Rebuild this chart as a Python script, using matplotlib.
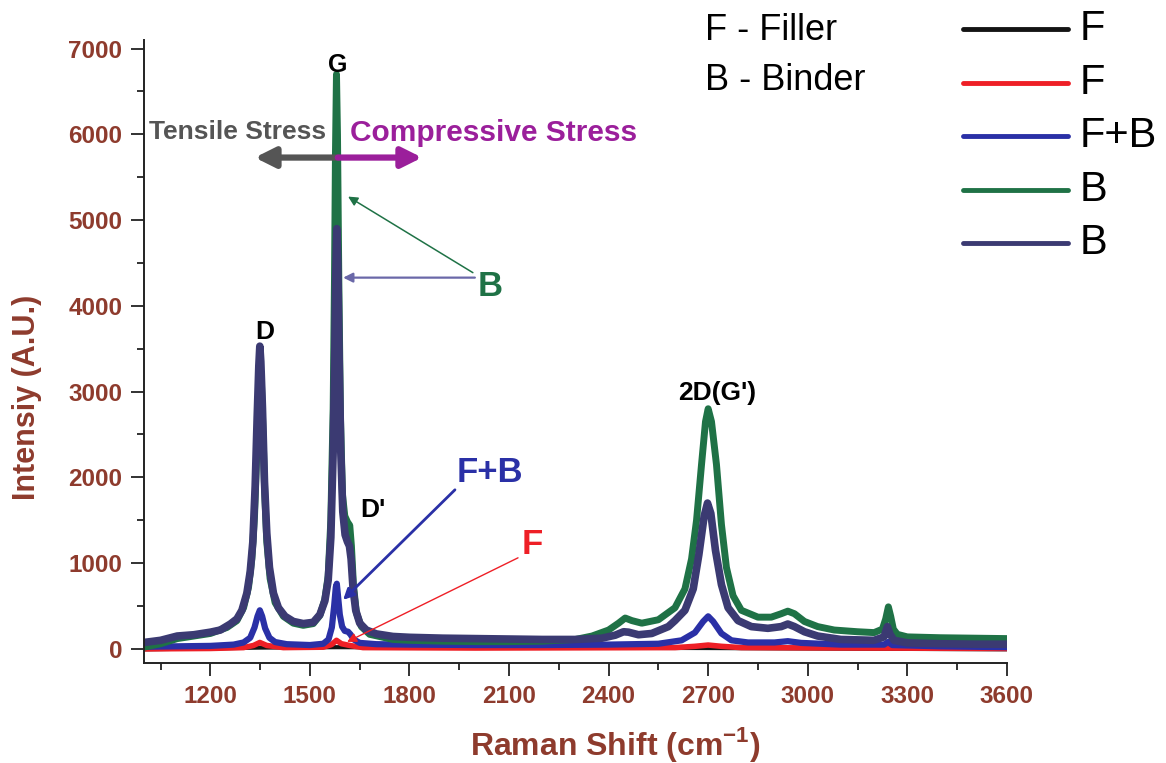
import matplotlib
matplotlib.use("Agg")
import matplotlib.pyplot as plt
from matplotlib.lines import Line2D
from matplotlib.ticker import MultipleLocator

plt.rcParams['font.family'] = ['Liberation Sans', 'DejaVu Sans']
plt.rcParams['mathtext.fontset'] = 'custom'
plt.rcParams['mathtext.rm'] = 'Liberation Sans'
plt.rcParams['mathtext.bf'] = 'Liberation Sans:bold'

# Raman spectra (shift in cm-1, intensity in A.U.)
shift_f1 = [1000, 1349, 1580, 2700, 3600]
int_f1 = [-5, 15, 20, 10, -5]

shift_f2 = [1000, 1200, 1300, 1330, 1349, 1370, 1420, 1540, 1565, 1580, 1595,
            1620, 1660, 2000, 2600, 2660, 2700, 2740, 2800, 3000, 3600]
int_f2 = [0, 5, 15, 40, 75, 40, 15, 20, 50, 100, 60,
          40, 15, 10, 15, 30, 45, 30, 15, 12, 5]

shift_fb = [1000, 1100, 1200, 1270, 1300, 1320, 1333, 1342, 1349, 1356, 1365,
            1378, 1395, 1430, 1500, 1540, 1556, 1566, 1573, 1578, 1581, 1585,
            1590, 1597, 1605, 1615, 1622, 1632, 1650, 1700, 1800, 2000, 2200,
            2400, 2550, 2620, 2660, 2685, 2700, 2715, 2740, 2770, 2820, 2900,
            2940, 2980, 3100, 3230, 3242, 3255, 3400, 3600]
int_fb = [25, 30, 35, 50, 75, 130, 250, 380, 450, 380, 240,
          130, 80, 55, 45, 60, 110, 250, 500, 720, 760, 600,
          400, 260, 210, 200, 170, 110, 70, 55, 50, 45, 45,
          50, 60, 100, 190, 320, 380, 320, 180, 100, 75, 75,
          90, 70, 50, 50, 80, 45, 30, 20]

shift_b1 = [1000, 1050, 1100, 1150, 1200, 1250, 1280, 1300, 1315, 1325, 1333,
            1340, 1345, 1349, 1353, 1358, 1364, 1370, 1380, 1395, 1420, 1450,
            1480, 1510, 1530, 1545, 1555, 1563, 1570, 1574, 1577, 1580, 1583,
            1587, 1592, 1598, 1605, 1613, 1620, 1625, 1631, 1640, 1655, 1680,
            1750, 1800, 1900, 2000, 2100, 2200, 2300, 2350, 2400, 2430, 2450,
            2470, 2500, 2550, 2600, 2630, 2650, 2665, 2680, 2692, 2700, 2710,
            2725, 2740, 2755, 2775, 2800, 2850, 2890, 2920, 2940, 2960, 2990,
            3030, 3080, 3150, 3200, 3225, 3235, 3243, 3250, 3258, 3270, 3300,
            3400, 3500, 3600]
int_b1 = [20, 60, 120, 150, 180, 250, 330, 480, 720, 1050, 1550,
          2300, 2900, 3300, 3200, 2600, 1800, 1250, 820, 540, 380, 300,
          275, 295, 390, 580, 850, 1500, 2800, 4300, 5800, 6700, 6000,
          4300, 2700, 1800, 1550, 1480, 1440, 1200, 750, 420, 260, 170,
          110, 100, 90, 85, 85, 90, 110, 150, 220, 300, 360,
          330, 300, 340, 480, 700, 1050, 1500, 2150, 2650, 2800, 2650,
          2150, 1450, 950, 620, 450, 370, 370, 410, 440, 410, 320,
          260, 220, 200, 190, 230, 350, 490, 380, 230, 170, 140,
          130, 125, 120]

shift_b2 = [1000, 1050, 1080, 1100, 1150, 1200, 1230, 1260, 1280, 1295, 1310,
            1320, 1328, 1335, 1341, 1346, 1349, 1352, 1357, 1363, 1370, 1378,
            1390, 1405, 1425, 1450, 1480, 1510, 1530, 1545, 1555, 1563, 1570,
            1575, 1578, 1581, 1584, 1588, 1593, 1599, 1606, 1613, 1619, 1624,
            1630, 1638, 1650, 1670, 1700, 1750, 1800, 1900, 2000, 2100, 2200,
            2300, 2380, 2420, 2445, 2460, 2490, 2530, 2580, 2600, 2630, 2655,
            2672, 2688, 2698, 2708, 2722, 2740, 2760, 2790, 2830, 2880, 2920,
            2940, 2960, 2990, 3030, 3100, 3200, 3230, 3240, 3248, 3260, 3300,
            3400, 3500, 3600]
int_b2 = [75, 100, 130, 150, 165, 195, 220, 290, 350, 450, 650,
          900, 1250, 1900, 2700, 3300, 3530, 3350, 2800, 1950, 1350, 950,
          650, 480, 380, 320, 295, 310, 400, 560, 800, 1300, 2300,
          3500, 4400, 4900, 4500, 3400, 2300, 1600, 1330, 1250, 1200, 1050,
          700, 450, 300, 220, 175, 145, 135, 125, 120, 115, 110,
          110, 125, 160, 200, 195, 165, 180, 260, 330, 450, 700,
          1100, 1550, 1700, 1580, 1150, 750, 480, 330, 260, 240, 260,
          290, 260, 200, 150, 110, 100, 140, 260, 170, 100, 70,
          60, 55, 55]

series = [
    (shift_f1, int_f1, '#141414', 3.0, 'F'),
    (shift_f2, int_f2, '#ee1f26', 4.0, 'F'),
    (shift_fb, int_fb, '#2a30a6', 4.5, 'F+B'),
    (shift_b1, int_b1, '#1f7246', 5.0, 'B'),
    (shift_b2, int_b2, '#3b3a72', 5.5, 'B'),
]

brown = '#8e3b2d'

fig = plt.figure(figsize=(11.66, 7.63), dpi=100)
ax = fig.add_axes([0.1235, 0.131, 0.740, 0.8166])

for x, y, c, lw, lab in series:
    ax.plot(x, y, color=c, lw=lw, solid_joinstyle='round', solid_capstyle='round')

ax.set_xlim(1000, 3600)
ax.set_ylim(-165, 7100)
ax.xaxis.set_major_locator(MultipleLocator(300))
ax.xaxis.set_minor_locator(MultipleLocator(150))
ax.yaxis.set_major_locator(MultipleLocator(1000))
ax.yaxis.set_minor_locator(MultipleLocator(500))
ax.set_xticks(range(1200, 3601, 300))

for s in ['top', 'right']:
    ax.spines[s].set_visible(False)
for s in ['left', 'bottom']:
    ax.spines[s].set_linewidth(1.4)
    ax.spines[s].set_color('#222222')

ax.tick_params(which='major', direction='out', length=9.5, width=1.3, color='#222222', pad=6)
ax.tick_params(which='minor', direction='out', length=5, width=1.3, color='#222222')
for lbl in ax.get_xticklabels() + ax.get_yticklabels():
    lbl.set_fontsize(17.5)
    lbl.set_fontweight('bold')
    lbl.set_color(brown)

ax.set_xlabel(r'Raman Shift (cm$^{\mathbf{-1}}$)', fontsize=23, fontweight='bold', color=brown)
ax.xaxis.set_label_coords(0.546, -0.100)
ax.set_ylabel('Intensiy (A.U.)', fontsize=22, fontweight='bold', color=brown)
ax.yaxis.set_label_coords(-0.118, 0.427)

# peak labels
ax.text(1585, 6814, 'G', fontsize=18, fontweight='bold', ha='center', va='center')
ax.text(1364, 3699, 'D', fontsize=19, fontweight='bold', ha='center', va='center')
ax.text(1690, 1622, "D'", fontsize=19, fontweight='bold', ha='center', va='center')
ax.text(2726, 2987, "2D(G')", fontsize=19, fontweight='bold', ha='center', va='center')

# stress direction arrows
ax.text(1283, 6032, 'Tensile Stress', fontsize=19, fontweight='bold', color='#555555',
        ha='center', va='center')
ax.text(2052, 6020, 'Compressive Stress', fontsize=21.5, fontweight='bold', color='#9b1f9b',
        ha='center', va='center')
ax.annotate('', xy=(1334, 5729), xytext=(1586, 5729),
            arrowprops=dict(arrowstyle='-|>', color='#555555', lw=4.5,
                            mutation_scale=30, shrinkA=0, shrinkB=0))
ax.annotate('', xy=(1838, 5729), xytext=(1584, 5729),
            arrowprops=dict(arrowstyle='-|>', color='#9b1f9b', lw=4.5,
                            mutation_scale=30, shrinkA=0, shrinkB=0))

# sample labels with pointers
ax.text(2042, 4224, 'B', fontsize=25, fontweight='bold', color='#1f7246', ha='center', va='center')
ax.annotate('', xy=(1615, 5274), xytext=(1991, 4387),
            arrowprops=dict(arrowstyle='-|>', color='#1f7246', lw=1.1,
                            mutation_scale=14, shrinkA=0, shrinkB=0))
ax.annotate('', xy=(1600, 4329), xytext=(1997, 4329),
            arrowprops=dict(arrowstyle='-|>', color='#6a68a8', lw=1.6,
                            mutation_scale=14, shrinkA=0, shrinkB=0))

ax.text(2042, 2054, 'F+B', fontsize=25, fontweight='bold', color='#2a30a6', ha='center', va='center')
ax.annotate('', xy=(1600, 572), xytext=(1937, 1855),
            arrowprops=dict(arrowstyle='-|>', color='#2a30a6', lw=2.0,
                            mutation_scale=16, shrinkA=0, shrinkB=0))

ax.text(2169, 1213, 'F', fontsize=25, fontweight='bold', color='#ee1f26', ha='center', va='center')
ax.annotate('', xy=(1612, 82), xytext=(2127, 1062),
            arrowprops=dict(arrowstyle='-|>', color='#ee1f26', lw=1.0,
                            mutation_scale=14, shrinkA=0, shrinkB=0))

# key, drawn in figure pixels
W, H = 1166, 763
fig.text(705 / W, 1 - 30 / H, 'F - Filler', fontsize=26, va='center', ha='left')
fig.text(705 / W, 1 - 80 / H, 'B - Binder', fontsize=26, va='center', ha='left')
rows = [29, 83, 136, 190, 243]
for (x, y, c, lw, lab), ry in zip(series, rows):
    fig.add_artist(Line2D([963 / W, 1068 / W], [1 - ry / H] * 2, transform=fig.transFigure,
                          color=c, lw=3.5, solid_capstyle='round'))
    fig.text(1080 / W, 1 - ry / H, lab, fontsize=30, va='center', ha='left')

fig.savefig('out.png', dpi=100)
